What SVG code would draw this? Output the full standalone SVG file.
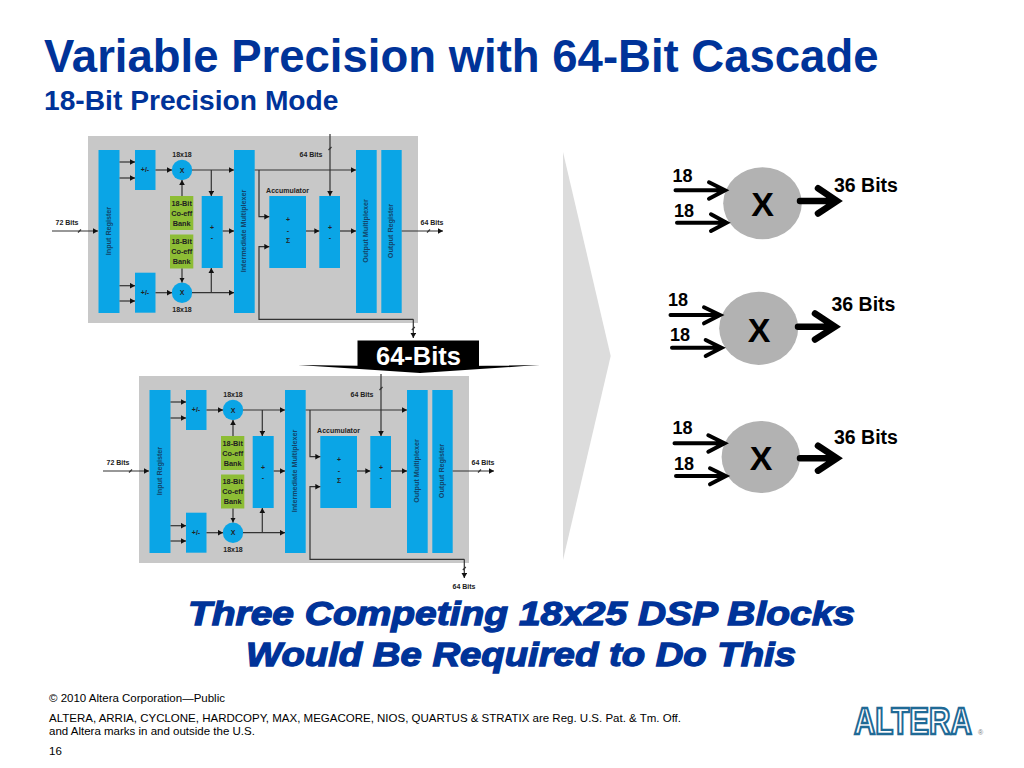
<svg xmlns="http://www.w3.org/2000/svg" xmlns:xlink="http://www.w3.org/1999/xlink" width="1024" height="768" viewBox="0 0 1024 768">
<style>
text{font-family:"Liberation Sans",Arial,sans-serif}
.title{fill:#003399;font-weight:700}
.b{fill:#0aa5e6}
.g{fill:#8dbd35}
.bg{fill:#c8c8c8}
.l{font-size:7px;font-weight:700;fill:#222;text-anchor:middle}
.gl{font-size:7.3px;font-weight:700;fill:#222;text-anchor:middle}
.r{font-size:7.2px;font-weight:700;fill:#12456b;text-anchor:middle}
.w{fill:none;stroke:#333;stroke-width:1.2}
.a{marker-end:url(#ah)}
.k{fill:none;stroke:#000;stroke-width:4;stroke-linecap:round;stroke-linejoin:miter}
.kb{fill:none;stroke:#000;stroke-width:6.500;stroke-linecap:round;stroke-linejoin:miter}
.n{font-size:18px;font-weight:700;fill:#000}
.t{font-size:19.500px;font-weight:700;fill:#000}
.x{font-size:34px;font-weight:700;fill:#000;text-anchor:middle}
.c{fill:#b2b2b2}
.f{font-size:11.500px;fill:#000}
.s{font-size:33.500px;font-weight:700;font-style:italic;fill:#003399;stroke:#003399;stroke-width:1.300}
</style>
<defs>
<marker id="ah" markerUnits="userSpaceOnUse" markerWidth="6" markerHeight="6" refX="5" refY="3" orient="auto"><path d="M0,0.2L5,3L0,5.8z" fill="#111"/></marker>
<g id="blk">
<rect class="bg" x="88" y="136" width="330" height="187"/>
<rect class="b" x="98.5" y="150" width="21" height="163"/>
<rect class="b" x="135" y="150" width="20.5" height="40"/>
<rect class="b" x="135" y="272.7" width="20.5" height="40"/>
<circle class="b" cx="182" cy="170" r="10.2"/>
<circle class="b" cx="182" cy="292.7" r="10.2"/>
<rect class="g" x="170" y="196" width="23.3" height="34"/>
<rect class="g" x="170" y="234.5" width="23.3" height="34"/>
<rect class="b" x="201.7" y="196" width="21" height="72"/>
<rect class="b" x="234" y="150" width="20.7" height="163"/>
<rect class="b" x="269.3" y="196" width="36.7" height="72"/>
<rect class="b" x="319.3" y="196" width="20.7" height="72"/>
<rect class="b" x="356" y="150" width="20.7" height="163"/>
<rect class="b" x="381.3" y="150" width="20.4" height="163"/>
<g>
<path class="w a" d="M52,231H98"/><path class="w" d="M78,232.5l3,-3"/>
<path class="w a" d="M119.5,162H135"/><path class="w a" d="M119.5,178H135"/>
<path class="w a" d="M119.5,285.7H135"/><path class="w a" d="M119.5,301H135"/>
<path class="w a" d="M155.5,170H172"/><path class="w a" d="M155.5,292.7H172"/>
<path class="w a" d="M192,170H234"/><path class="w a" d="M192,292.7H234"/>
<path class="w a" d="M211.3,170V196"/><path class="w a" d="M211.3,292.7V268"/>
<path class="w a" d="M182,196V180"/><path class="w a" d="M182,268.5V282.5"/>
<path class="w a" d="M222.7,231H234"/>
<path class="w a" d="M254.7,170H356"/>
<path class="w a" d="M259,170V216.7H269.3"/>
<path class="w a" d="M413.3,319.3H259V246.7H269.3"/>
<path class="w a" d="M306,231H319.3"/>
<path class="w a" d="M340,231H356"/>
<path class="w a" d="M401.7,231H443"/><path class="w" d="M427,232.5l3,-3"/>
<path class="w a" d="M330,134V196"/><path class="w" d="M328.5,150l3,-3"/>
</g>
<text class="l" x="67" y="225">72 Bits</text>
<text class="l" x="182" y="157">18x18</text>
<text class="l" x="182" y="311.5">18x18</text>
<text class="l" x="145" y="172">+/-</text>
<text class="l" x="145" y="295">+/-</text>
<text class="l" x="182" y="172.5">X</text>
<text class="l" x="182" y="295">X</text>
<text class="gl" x="181.7" y="206">18-Bit</text>
<text class="gl" x="181.7" y="215.5">Co-eff</text>
<text class="gl" x="181.7" y="226">Bank</text>
<text class="gl" x="181.7" y="244">18-Bit</text>
<text class="gl" x="181.7" y="254">Co-eff</text>
<text class="gl" x="181.7" y="264">Bank</text>
<text class="l" x="212" y="230">+</text>
<text class="l" x="212" y="240">-</text>
<text class="l" x="288" y="222">+</text>
<text class="l" x="288" y="233">-</text>
<text class="l" x="288" y="243">Σ</text>
<text class="l" x="330" y="230">+</text>
<text class="l" x="330" y="240">-</text>
<text class="l" x="287.5" y="192.5">Accumulator</text>
<text class="l" x="311" y="157">64 Bits</text>
<text class="l" x="432" y="225">64 Bits</text>
<text class="r" transform="translate(111,231) rotate(-90)">Input Register</text>
<text class="r" transform="translate(246,231) rotate(-90)">Intermediate Multiplexer</text>
<text class="r" transform="translate(368,231) rotate(-90)">Output Multiplexer</text>
<text class="r" transform="translate(393,231) rotate(-90)">Output Register</text>
</g>
</defs>

<g id="header">
<text class="title" x="44" y="72" font-size="45.500">Variable Precision with 64-Bit Cascade</text>
<text class="title" x="44" y="110" font-size="28.200">18-Bit Precision Mode</text>
</g>

<g id="chevron"><polygon points="563,152 610.700,356 563,560" fill="#dcdcdc"/></g>

<g id="block-top"><use xlink:href="#blk" href="#blk"/><path class="w a" d="M413.3,319.3V338"/><path class="w" d="M411.8,330l3,-3"/></g>
<g id="block-bottom"><use xlink:href="#blk" href="#blk" x="51" y="240"/><path class="w a" d="M464.3,559.3V578"/><path class="w" d="M462.8,570l3,-3"/><text class="l" x="464" y="589">64 Bits</text></g>

<g id="cascade-label">
<rect x="357.5" y="340.5" width="121.5" height="26" fill="#000"/>
<path d="M298,365Q420,367 540,365Q480,369 420,373Q360,369 298,365z" fill="#000"/>
<text x="418.500" y="365" font-size="25.500" font-weight="700" fill="#fff" text-anchor="middle">64-Bits</text>
</g>

<g id="mult-1">
<ellipse class="c" cx="762.500" cy="203.300" rx="39.300" ry="36"/>
<path class="k" d="M675.500,190.300H724M709,182.300L725,190.300L709,198.700"/>
<path class="k" d="M677,222.700H725M711,214.300L726.500,222.700L711,231"/>
<path class="kb" d="M800,201H834M818,188.300L837,201L818,213.500"/>
<text class="n" x="672.500" y="182.300">18</text><text class="n" x="674" y="216.700">18</text>
<text class="x" x="762.500" y="216">X</text><text class="t" x="834" y="191.700">36 Bits</text>
</g>
<g id="mult-2">
<ellipse class="c" cx="758.700" cy="328.300" rx="39.500" ry="36.600"/>
<path class="k" d="M670.500,315H719M704,307.300L720,315L704,323.300"/>
<path class="k" d="M672,347.700H721M705.700,340L721.500,347.700L705.700,356"/>
<path class="kb" d="M798,326.700H832M815,313.500L835,326.700L815,339.500"/>
<text class="n" x="668" y="306">18</text><text class="n" x="670" y="341">18</text>
<text class="x" x="759" y="341.500">X</text><text class="t" x="831.500" y="310.700">36 Bits</text>
</g>
<g id="mult-3">
<ellipse class="c" cx="760.800" cy="457" rx="39.200" ry="36"/>
<path class="k" d="M674.500,443.300H724M708.300,435.300L724.500,443.300L708.300,451.700"/>
<path class="k" d="M676,476H725M710,468.300L725.800,476L710,484.300"/>
<path class="kb" d="M800,458.300H834M818,445.700L837,458.300L818,470.700"/>
<text class="n" x="672.500" y="434.300">18</text><text class="n" x="674" y="470">18</text>
<text class="x" x="761" y="470">X</text><text class="t" x="834" y="444">36 Bits</text>
</g>

<g id="callout">
<text class="s" x="188" y="625" textLength="667" lengthAdjust="spacingAndGlyphs">Three Competing 18x25 DSP Blocks</text>
<text class="s" x="246" y="666" textLength="550" lengthAdjust="spacingAndGlyphs">Would Be Required to Do This</text>
</g>

<g id="footer">
<text class="f" x="49" y="702">© 2010 Altera Corporation—Public</text>
<text class="f" x="49" y="722">ALTERA, ARRIA, CYCLONE, HARDCOPY, MAX, MEGACORE, NIOS, QUARTUS &amp; STRATIX are Reg. U.S. Pat. &amp; Tm. Off.</text>
<text class="f" x="49" y="735">and Altera marks in and outside the U.S.</text>
<text class="f" x="49" y="755">16</text>
</g>

<g id="logo">
<text transform="translate(854,734) scale(.8,1)" font-size="37" font-weight="700" fill="#fff" stroke="#1f6a96" stroke-width="2.400">ALTERA</text>
<text x="978" y="735" font-size="7" fill="#777">®</text>
</g>
</svg>
